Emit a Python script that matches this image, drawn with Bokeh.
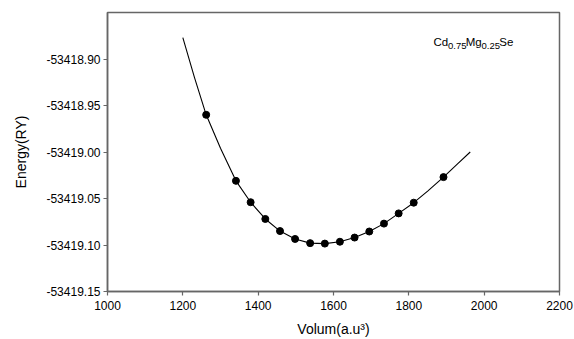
from bokeh.plotting import figure
from bokeh.models import FixedTicker, PrintfTickFormatter, Range1d, Label
from bokeh.embed import file_html
from bokeh.resources import INLINE

# Data points (volume in a.u.^3, energy in Ry)
volume = [1262, 1341, 1380, 1419, 1458, 1498, 1538, 1577, 1617, 1656, 1695, 1734, 1773, 1813, 1892]
energy = [-53418.960, -53419.031, -53419.054, -53419.072, -53419.085, -53419.0935, -53419.098,
          -53419.0985, -53419.0965, -53419.092, -53419.0855, -53419.077, -53419.066, -53419.0545,
          -53419.027]

# Fitted curve
curve_v = [1200, 1231, 1262, 1300, 1341, 1380, 1419, 1458, 1498, 1538, 1577, 1617, 1656, 1695,
           1734, 1773, 1813, 1850, 1892, 1930, 1963]
curve_e = [-53418.877, -53418.920, -53418.960, -53418.996, -53419.031, -53419.054, -53419.072,
           -53419.085, -53419.0935, -53419.098, -53419.0985, -53419.0965, -53419.092, -53419.0855,
           -53419.077, -53419.066, -53419.0545, -53419.042, -53419.027, -53419.0125, -53419.000]

x_ticks = [1000, 1200, 1400, 1600, 1800, 2000, 2200]
y_ticks = [-53418.90, -53418.95, -53419.00, -53419.05, -53419.10, -53419.15]

FONT = "Liberation Sans"
AX = "#666666"

p = figure(width=574, height=339, output_backend="svg", toolbar_location=None,
           x_range=Range1d(1000, 2200), y_range=Range1d(-53419.15, -53418.85),
           min_border_left=107, min_border_right=15, min_border_top=12, min_border_bottom=48)

p.background_fill_color = "white"
p.border_fill_color = "white"
p.outline_line_color = AX
p.outline_line_width = 1.5
p.xgrid.visible = False
p.ygrid.visible = False

p.line(curve_v, curve_e, line_color="black", line_width=1.1)
p.scatter(volume, energy, size=7, fill_color="black", line_color="black")

for ax in (p.xaxis[0], p.yaxis[0]):
    ax.axis_line_color = AX
    ax.axis_line_width = 1.5
    ax.major_tick_line_color = AX
    ax.major_tick_line_width = 1.2
    ax.major_tick_in = 0
    ax.major_tick_out = 4
    ax.minor_tick_line_color = None
    ax.major_label_text_font = FONT
    ax.major_label_text_font_size = "12px"
    ax.major_label_text_color = "black"
    ax.axis_label_text_font = FONT
    ax.axis_label_text_font_size = "14px"
    ax.axis_label_text_font_style = "normal"
    ax.axis_label_text_color = "black"

p.xaxis.ticker = FixedTicker(ticks=x_ticks)
p.yaxis.ticker = FixedTicker(ticks=y_ticks)
p.yaxis.formatter = PrintfTickFormatter(format="%.2f")
p.xaxis.major_label_standoff = 5
p.yaxis.major_label_standoff = 3
p.xaxis.axis_label = "Volum(a.u³)"
p.yaxis.axis_label = "Energy(RY)"
p.xaxis.axis_label_standoff = 8
p.yaxis.axis_label_standoff = 14

# Compound label Cd0.75Mg0.25Se
pieces = [("Cd", 1865.5, -53418.8818, "11.5px"), ("0.75", 1904.0, -53418.8855, "9.5px"),
          ("Mg", 1951.0, -53418.8818, "11.5px"), ("0.25", 1993.0, -53418.8855, "9.5px"),
          ("Se", 2040.0, -53418.8818, "11.5px")]
for txt, xx, yy, fs in pieces:
    p.add_layout(Label(x=xx, y=yy, text=txt, text_font=FONT, text_font_size=fs,
                       text_color="black", text_baseline="alphabetic", text_align="left"))

open("out.html", "w").write(file_html(p, INLINE))
